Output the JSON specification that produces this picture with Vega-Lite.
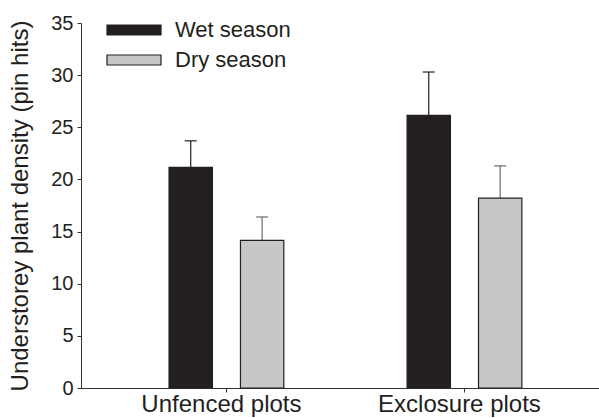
{
  "$schema": "https://vega.github.io/schema/vega-lite/v6.json",
  "autosize": {"type": "none"},
  "width": 518,
  "height": 365,
  "padding": {"left": 81, "top": 23, "right": 0, "bottom": 30},
  "background": "white",
  "config": {
    "font": "Liberation Sans",
    "view": {"stroke": null},
    "axis": {"grid": false, "domainColor": "#333333", "tickColor": "#333333", "labelColor": "#231f20", "titleColor": "#231f20", "labelFont": "Liberation Sans", "titleFont": "Liberation Sans"}
  },
  "data": {
    "values": [
      {"site": "Unfenced plots", "season": "Wet season", "mean": 21.15, "upper": 23.7},
      {"site": "Unfenced plots", "season": "Dry season", "mean": 14.15, "upper": 16.4},
      {"site": "Exclosure plots", "season": "Wet season", "mean": 26.15, "upper": 30.3},
      {"site": "Exclosure plots", "season": "Dry season", "mean": 18.2, "upper": 21.3}
    ]
  },
  "encoding": {
    "x": {
      "field": "site", "type": "nominal",
      "sort": ["Unfenced plots", "Exclosure plots"],
      "scale": {"paddingInner": 0, "paddingOuter": 0.088, "align": 0.63},
      "axis": {"title": null, "labelAngle": 0, "labelFontSize": 24, "labelPadding": 0, "labelOffset": -5, "tickSize": 4, "domainWidth": 1}
    },
    "xOffset": {
      "field": "season", "type": "nominal",
      "sort": ["Wet season", "Dry season"],
      "scale": {"domain": ["Wet season", "Dry season"], "paddingInner": 0.393, "paddingOuter": 0.863}
    }
  },
  "layer": [
    {
      "transform": [{"filter": "datum.season === 'Wet season'"}],
      "mark": {"type": "rule", "strokeWidth": 1.2, "color": "#231f20"},
      "encoding": {
        "y": {"field": "mean", "type": "quantitative"},
        "y2": {"field": "upper"}
      }
    },
    {
      "transform": [{"filter": "datum.season === 'Dry season'"}],
      "mark": {"type": "rule", "strokeWidth": 1.2, "color": "#6d6e70"},
      "encoding": {
        "y": {"field": "mean", "type": "quantitative"},
        "y2": {"field": "upper"}
      }
    },
    {
      "transform": [{"filter": "datum.season === 'Wet season'"}],
      "mark": {"type": "tick", "thickness": 1.2, "size": 12, "color": "#231f20", "opacity": 1},
      "encoding": {
        "y": {"field": "upper", "type": "quantitative"}
      }
    },
    {
      "transform": [{"filter": "datum.season === 'Dry season'"}],
      "mark": {"type": "tick", "thickness": 1.2, "size": 12, "color": "#6d6e70", "opacity": 1},
      "encoding": {
        "y": {"field": "upper", "type": "quantitative"}
      }
    },
    {
      "mark": {"type": "bar", "stroke": "#231f20", "strokeWidth": 1.2},
      "encoding": {
        "y": {
          "field": "mean", "type": "quantitative",
          "scale": {"domain": [0, 35], "nice": false},
          "axis": {"title": "Understorey plant density (pin hits)", "titleFontSize": 24, "titleFontWeight": "normal", "titlePadding": 18, "labelFontSize": 20, "values": [0, 5, 10, 15, 20, 25, 30, 35], "tickSize": 4, "labelPadding": 4}
        },
        "fill": {
          "field": "season", "type": "nominal",
          "scale": {"domain": ["Wet season", "Dry season"], "range": ["#231f20", "#c6c7c9"]},
          "legend": {
            "title": null, "orient": "none", "legendX": 42, "legendY": -4,
            "padding": 0, "symbolType": "M-5.4,-1H5.4V1H-5.4Z", "symbolSize": 100,
            "symbolStrokeColor": "#231f20", "symbolStrokeWidth": 1.2,
            "labelFontSize": 22, "labelColor": "#231f20", "labelOffset": 30, "rowPadding": 8
          }
        }
      }
    }
  ]
}
